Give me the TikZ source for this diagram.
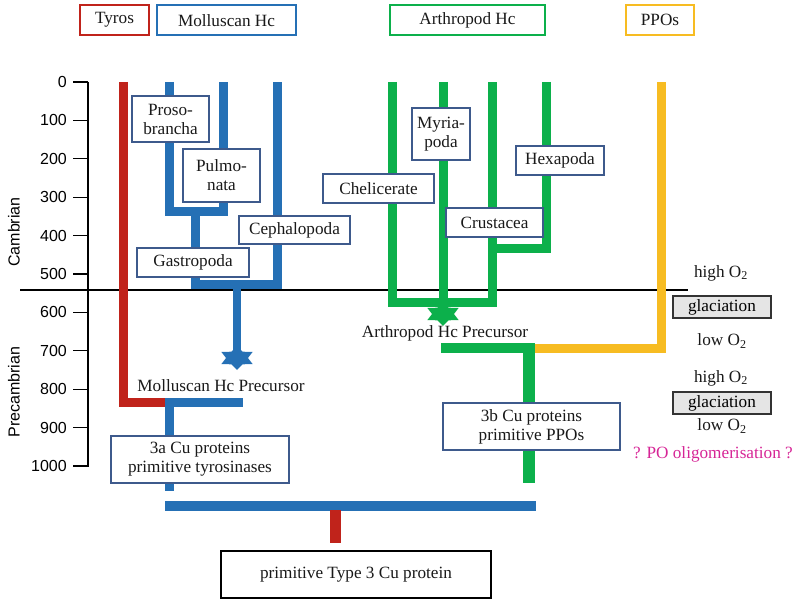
\documentclass[tikz,border=0pt]{standalone}
\usepackage{fontspec}
\setmainfont{Liberation Serif}
\newfontfamily\axisfont{Liberation Sans}
\usetikzlibrary{positioning}
\definecolor{tyroRed}{RGB}{192,35,27}
\definecolor{hcBlue}{RGB}{37,112,181}
\definecolor{hcGreen}{RGB}{12,176,75}
\definecolor{ppoYellow}{RGB}{247,188,34}
\definecolor{boxEdge}{RGB}{62,90,140}
\definecolor{oligoPink}{RGB}{214,37,150}
\tikzset{
  branch/.style={line width=9pt},
  taxon/.style={draw=boxEdge,line width=1.5pt,fill=white,align=center,inner sep=0pt,text=black!90},
  clade/.style={draw=#1,line width=2pt,fill=white,minimum height=30pt,inner sep=0pt,text=black!90},
  glacbox/.style={draw=black!80,line width=1.1pt,fill=black!10,minimum width=98pt,minimum height=22pt,inner sep=0pt},
  tick/.style={font=\axisfont\fontsize{16}{18}\selectfont,inner sep=0pt},
  hexstar/.pic={\fill[pic actions] (90:12) \foreach \a in {150,210,...,450}{ -- (\a-30:7.3) -- (\a:12)} -- cycle;}
}
\begin{document}
\begin{tikzpicture}[x=1pt,y=-1pt,font=\fontsize{17.2}{19}\selectfont]
\useasboundingbox (0,0) rectangle (793,599);

\draw[line width=1.2pt] (88,82) -- (88,466.7);
\foreach \t in {0,100,...,1000}{
\draw[line width=1.2pt] (73,82+0.384*\t) -- (88,82+0.384*\t);
\node[tick,anchor=east] (t\t) at (67,82+0.384*\t) {\t};
}
\node[tick,rotate=90] (cambrian) at (14,232) {Cambrian};
\node[tick,rotate=90] (precambrian) at (14,392) {Precambrian};
\draw[line width=1.1pt] (20,290) -- (688,290);

\node[clade=tyroRed,minimum width=69pt] (tyros) at (114.5,20) {Tyros};
\node[clade=hcBlue,minimum width=139pt] (mollHc) at (226.5,20.5) {Molluscan Hc};
\node[clade=hcGreen,minimum width=155pt] (arthHc) at (467.5,20.5) {Arthropod Hc};
\node[clade=ppoYellow,minimum width=68pt] (ppos) at (660,20) {PPOs};

\draw[branch,tyroRed] (123,82) |- (165,402);
\draw[branch,hcBlue] (165,402) -- (243,402);
\draw[branch,hcBlue] (169.5,402) -- (169.5,491);
\draw[branch,hcBlue] (169.3,82) -- (169.3,211.7) -- (223,211.7) -- (223,82);
\draw[branch,hcBlue] (195.5,211.7) |- (277.5,284.7) -- (277.5,82);
\draw[line width=8pt,hcBlue] (237,284.7) -- (237,352);
\pic[fill=hcBlue,xscale=1.5] (mollStar) at (237,358) {hexstar};

\draw[branch,hcGreen] (392,82) -- (392,302) -- (492,302) -- (492,82);
\draw[branch,hcGreen] (443,82) -- (443,308);
\draw[branch,hcGreen] (546,82) |- (492,248);
\pic[fill=hcGreen,xscale=1.5] (arthStar) at (443,314) {hexstar};
\draw[line width=10pt,hcGreen] (441,348) -- (535,348);
\draw[line width=12.6pt,hcGreen] (529,343) -- (529,483);
\draw[branch,ppoYellow] (535,348) -| (661.5,82);

\draw[line width=10pt,hcBlue] (165,505.7) -- (536,505.7);
\draw[line width=10.5pt,tyroRed] (335.5,510) -- (335.5,543);

\node[taxon,minimum width=77pt,minimum height=46pt] (proso) at (170.5,119) {Proso-\\brancha};
\node[taxon,minimum width=77pt,minimum height=53pt] (pulmo) at (221.5,175.5) {Pulmo-\\nata};
\node[taxon,minimum width=111pt,minimum height=28pt] (cephalo) at (294.5,230) {Cephalopoda};
\node[taxon,minimum width=112pt,minimum height=29pt] (gastro) at (193,262.5) {Gastropoda};
\node[taxon,minimum width=111pt,minimum height=29pt] (chelic) at (378.5,188.5) {Chelicerate};
\node[taxon,minimum width=58pt,minimum height=52pt] (myria) at (441,134) {Myria-\\poda};
\node[taxon,minimum width=88pt,minimum height=29pt] (hexa) at (560,160.5) {Hexapoda};
\node[taxon,minimum width=97pt,minimum height=29pt] (crust) at (494.5,222.5) {Crustacea};
\node[taxon,minimum width=178pt,minimum height=47pt] (cuA) at (200,459.5) {3a Cu proteins\\primitive tyrosinases};
\node[taxon,minimum width=177pt,minimum height=47pt] (cuB) at (531.5,426.5) {3b Cu proteins\\primitive PPOs};
\node[taxon,draw=black,line width=2pt,minimum width=270pt,minimum height=47pt] (root) at (356,574.5) {primitive Type 3 Cu protein};

\node[text=black!90] (mollPre) at (221,386) {Molluscan Hc Precursor};
\node[text=black!90] (arthPre) at (445,333) {Arthropod Hc Precursor};

\node[text=black!90] (hiA) at (721,273) {high O\textsubscript{2}};
\node[glacbox] (glacA) at (722,307) {glaciation};
\node[text=black!90] (loA) at (722,341) {low O\textsubscript{2}};
\node[text=black!90] (hiB) at (721,378) {high O\textsubscript{2}};
\node[glacbox] (glacB) at (722,403) {glaciation};
\node[text=black!90] (loB) at (722,426) {low O\textsubscript{2}};
\node[text=oligoPink] (oligo) at (713,454) {? PO oligomerisation ?};

\end{tikzpicture}
\end{document}
